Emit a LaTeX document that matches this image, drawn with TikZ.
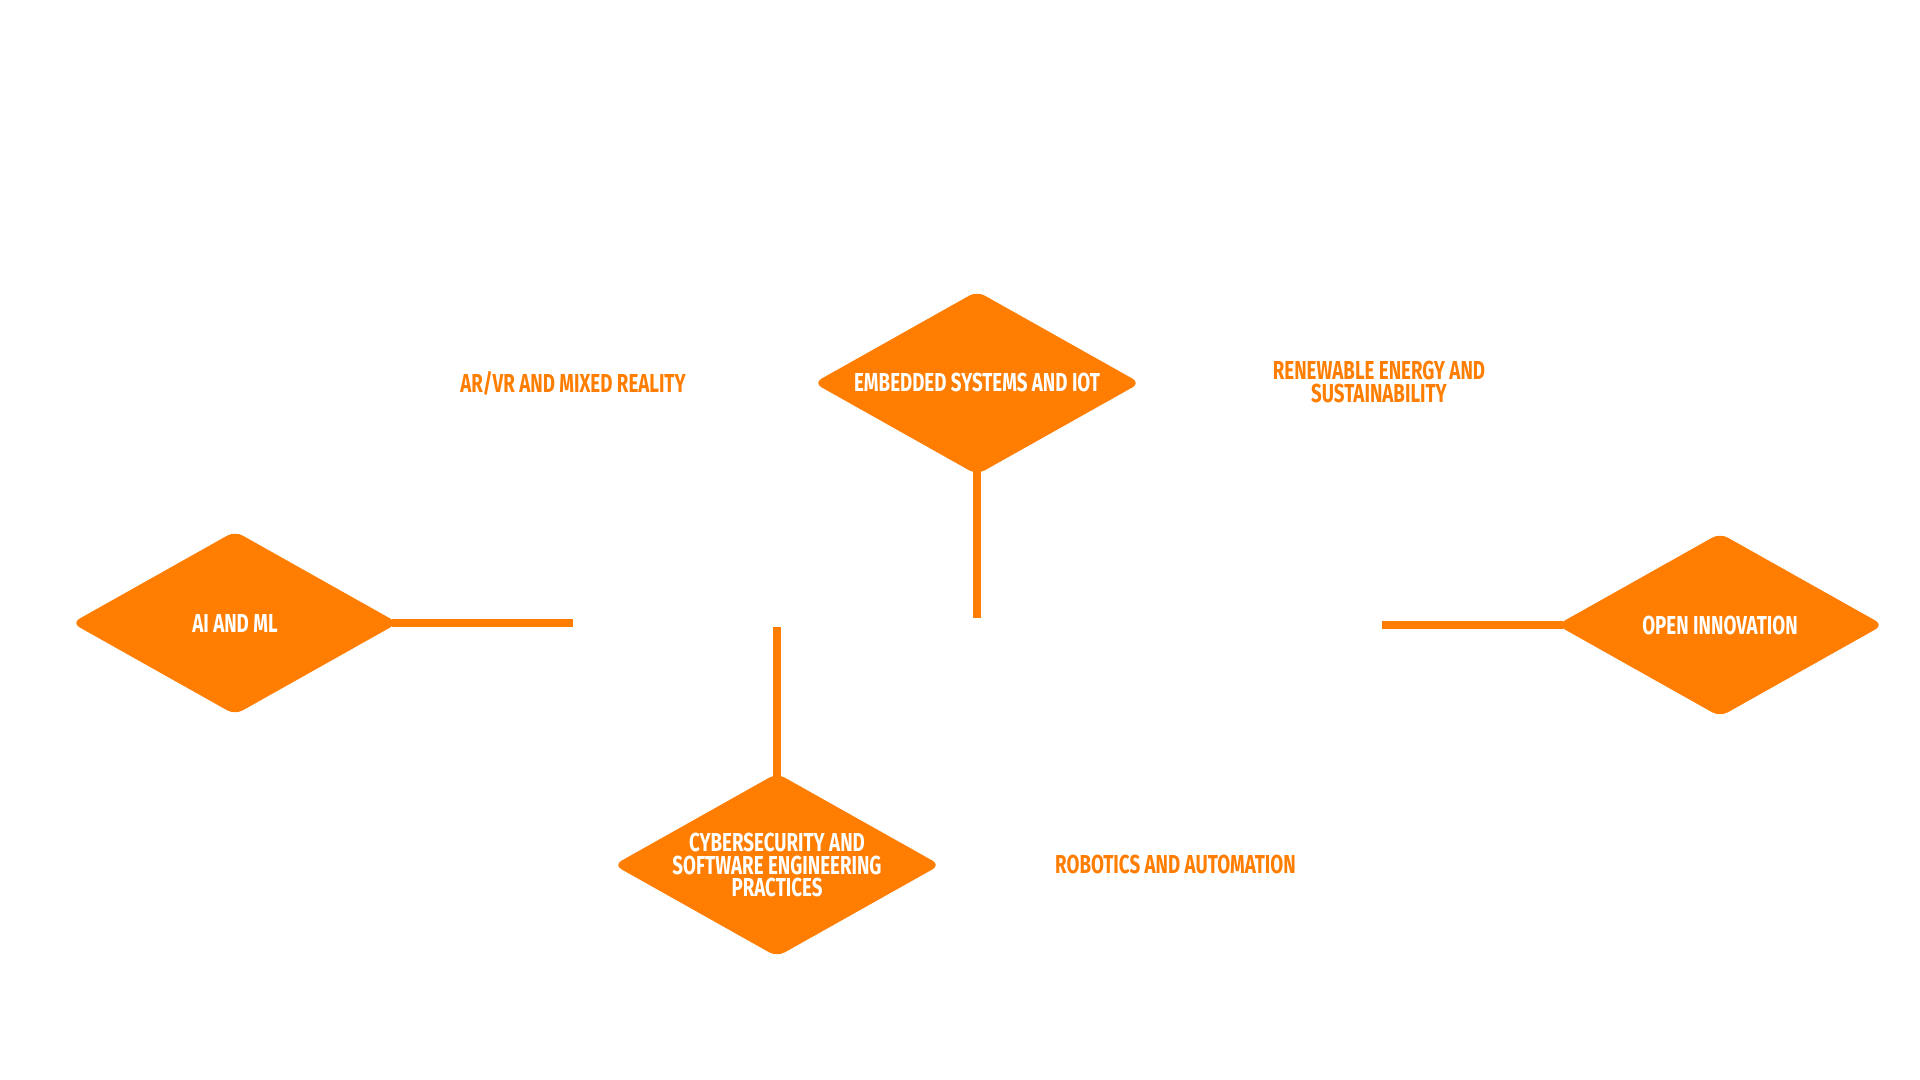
\documentclass[tikz,border=0pt]{standalone}
\usepackage{fontspec}
\setmainfont{Fira Sans}[FakeStretch=0.72]
\usetikzlibrary{shapes.geometric}
\definecolor{laranja}{HTML}{FF7D00}
\begin{document}
\begin{tikzpicture}[
    losango/.style={diamond, fill=laranja, text=white, rounded corners=2.5pt,
        minimum width=3.27cm, minimum height=1.84cm, inner sep=0pt, aspect=1.78,
        align=center, font=\fontsize{7.4}{6.3}\selectfont\bfseries},
    rotulo/.style={text=laranja, align=center, font=\fontsize{7.4}{6.3}\selectfont\bfseries},
    ligacao/.style={draw=laranja, line width=0.08cm, shorten <=-0.07cm}
]
    % Área do desenho
    \useasboundingbox (0,0) rectangle (19.2,10.8);

    % Losangos
    \node[losango] (aiml) at (2.35, 4.57) {AI AND ML};
    \node[losango] (embarcados) at (9.77, 6.97) {EMBEDDED SYSTEMS AND IOT};
    \node[losango] (ciber) at (7.77, 2.15) {CYBERSECURITY AND\\SOFTWARE ENGINEERING\\PRACTICES};
    \node[losango] (inovacao) at (17.20, 4.55) {OPEN INNOVATION};

    % Rótulos soltos
    \node[rotulo] (arvr) at (5.73, 6.97) {AR/VR AND MIXED REALITY};
    \node[rotulo] (energia) at (13.79, 6.98) {RENEWABLE ENERGY AND\\SUSTAINABILITY};
    \node[rotulo] (robotica) at (11.755, 2.155) {ROBOTICS AND AUTOMATION};

    % Pontas livres dos conectores
    \coordinate (aimlfim) at (5.73, 4.57);
    \coordinate (embarcadosfim) at (9.77, 4.62);
    \coordinate (ciberfim) at (7.77, 4.53);
    \coordinate (inovacaofim) at (13.82, 4.55);

    % Conectores
    \draw[ligacao] (aiml.east) -- (aimlfim);
    \draw[ligacao] (embarcados.south) -- (embarcadosfim);
    \draw[ligacao] (ciber.north) -- (ciberfim);
    \draw[ligacao] (inovacao.west) -- (inovacaofim);
\end{tikzpicture}
\end{document}
